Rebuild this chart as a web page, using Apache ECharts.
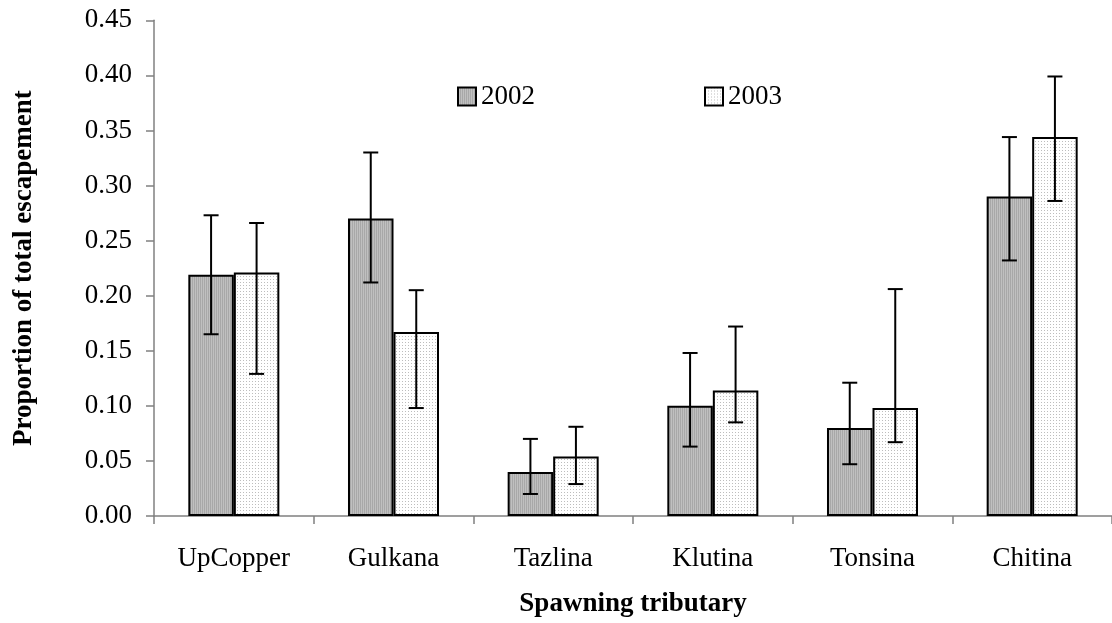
<!DOCTYPE html>
<html>
<head>
<meta charset="utf-8">
<script src="https://cdn.jsdelivr.net/npm/echarts@6/dist/echarts.min.js"></script>
<style>
html,body{margin:0;padding:0;background:#fff;}
#chart{width:1112px;height:623px;}
</style>
</head>
<body>
<div id="chart"></div>
<script>
const categories = ['UpCopper', 'Gulkana', 'Tazlina', 'Klutina', 'Tonsina', 'Chitina'];
const seriesNames = ['2002', '2003'];
const values2002 = [0.219, 0.270, 0.040, 0.100, 0.080, 0.290];
const values2003 = [0.221, 0.167, 0.054, 0.114, 0.098, 0.344];
const low2002 = [0.165, 0.212, 0.020, 0.063, 0.047, 0.232];
const high2002 = [0.273, 0.330, 0.070, 0.148, 0.121, 0.344];
const low2003 = [0.129, 0.098, 0.029, 0.085, 0.067, 0.286];
const high2003 = [0.266, 0.205, 0.081, 0.172, 0.206, 0.399];
const yTicks = { min: 0, max: 0.45, interval: 0.05 };

function makePattern(kind) {
  const c = document.createElement('canvas');
  const ctx = c.getContext('2d');
  if (kind === 'stripes') {
    c.width = 2; c.height = 2;
    ctx.fillStyle = '#a8a8a8'; ctx.fillRect(0, 0, 1, 2);
    ctx.fillStyle = '#c0c0c0'; ctx.fillRect(1, 0, 1, 2);
  } else {
    c.width = 3; c.height = 3;
    ctx.fillStyle = '#ffffff'; ctx.fillRect(0, 0, 3, 3);
    ctx.fillStyle = '#bdbdbd'; ctx.fillRect(0, 0, 1, 1);
  }
  return { image: c, repeat: 'repeat' };
}
const fill2002 = makePattern('stripes');
const fill2003 = makePattern('dots');

const FONT = '"Liberation Serif", "Times New Roman", serif';
const GAP = 0.43;

function errorRenderer(sign) {
  return function (params, api) {
    const idx = api.value(0);
    const lo = api.value(1);
    const hi = api.value(2);
    const band = api.size([1, 0])[0];
    const off = sign * band * (1 - GAP) / 4;
    const pLo = api.coord([idx, lo]);
    const pHi = api.coord([idx, hi]);
    const x = pLo[0] + off;
    const cap = 7.5;
    const style = { stroke: '#000', lineWidth: 2 };
    return {
      type: 'group',
      children: [
        { type: 'line', shape: { x1: x, y1: pLo[1], x2: x, y2: pHi[1] }, style: style },
        { type: 'line', shape: { x1: x - cap, y1: pHi[1], x2: x + cap, y2: pHi[1] }, style: style },
        { type: 'line', shape: { x1: x - cap, y1: pLo[1], x2: x + cap, y2: pLo[1] }, style: style }
      ]
    };
  };
}

const chart = echarts.init(document.getElementById('chart'), null, { renderer: 'canvas' });
const legendCommon = {
  icon: 'rect', top: 78, itemWidth: 18, itemHeight: 18, itemGap: 8,
  textStyle: { fontFamily: FONT, fontSize: 27, color: '#000' },
  itemStyle: { borderColor: '#000', borderWidth: 2 }
};
const option = {
  animation: false,
  backgroundColor: '#fff',
  textStyle: { fontFamily: FONT },
  grid: { left: 154, top: 20.3, right: -7, bottom: 106.3, containLabel: false },
  legend: [
    Object.assign({ data: [seriesNames[0]], left: 452 }, legendCommon),
    Object.assign({ data: [seriesNames[1]], left: 699 }, legendCommon)
  ],
  xAxis: {
    type: 'category',
    data: categories,
    name: 'Spawning tributary',
    nameLocation: 'middle',
    nameGap: 75,
    nameTextStyle: { fontFamily: FONT, fontSize: 27, fontWeight: 'bold', color: '#000' },
    axisLine: { lineStyle: { color: '#808080', width: 1.5 } },
    axisTick: { show: true, inside: false, length: 8, lineStyle: { color: '#808080', width: 1.5 } },
    axisLabel: { fontFamily: FONT, fontSize: 27, color: '#000', margin: 29 },
    splitLine: { show: false }
  },
  yAxis: {
    type: 'value',
    min: yTicks.min, max: yTicks.max, interval: yTicks.interval,
    name: 'Proportion of total escapement',
    nameLocation: 'middle',
    nameGap: 116,
    nameTextStyle: { fontFamily: FONT, fontSize: 27, fontWeight: 'bold', color: '#000' },
    axisLine: { show: true, lineStyle: { color: '#808080', width: 1.5 } },
    axisTick: { show: true, inside: false, length: 8, lineStyle: { color: '#808080', width: 1.5 } },
    axisLabel: { fontFamily: FONT, fontSize: 27, color: '#000', margin: 22, formatter: v => v.toFixed(2) },
    splitLine: { show: false }
  },
  series: [
    {
      name: seriesNames[0], type: 'bar', data: values2002,
      barGap: '0%', barCategoryGap: (GAP * 100) + '%',
      itemStyle: { color: fill2002, borderColor: '#000', borderWidth: 2 },
      z: 2
    },
    {
      name: seriesNames[1], type: 'bar', data: values2003,
      barGap: '0%', barCategoryGap: (GAP * 100) + '%',
      itemStyle: { color: fill2003, borderColor: '#000', borderWidth: 2 },
      z: 2
    },
    {
      type: 'custom', name: 'err2002', renderItem: errorRenderer(-1), z: 5,
      encode: { x: 0, y: [1, 2] },
      data: categories.map((c, i) => [i, low2002[i], high2002[i]])
    },
    {
      type: 'custom', name: 'err2003', renderItem: errorRenderer(1), z: 5,
      encode: { x: 0, y: [1, 2] },
      data: categories.map((c, i) => [i, low2003[i], high2003[i]])
    }
  ]
};
chart.setOption(option);
</script>
</body>
</html>
